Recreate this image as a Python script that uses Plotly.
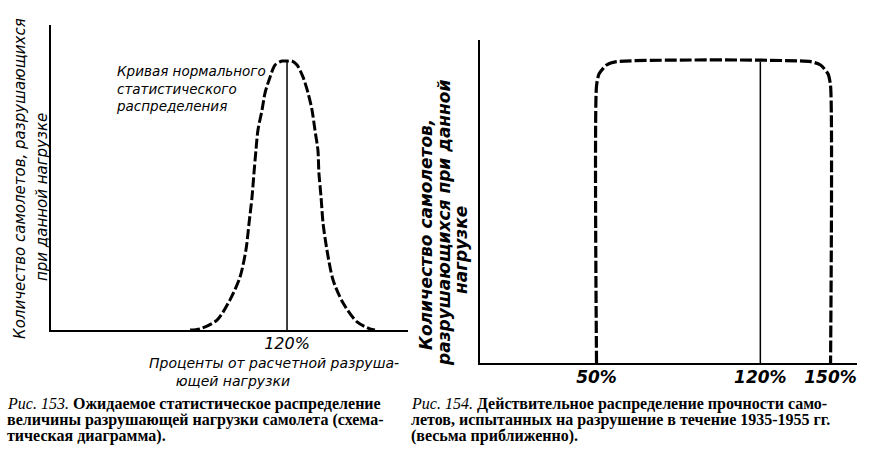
import plotly.graph_objects as go

W, H = 873, 458

# ---------------- data ----------------
# Fig. 153: expected (normal) distribution, x = % of design ultimate load, y = relative count
normal_x = [70.7, 75.7, 84.4, 91.0, 96.1, 99.1, 100.7, 102.2, 103.2, 104.2, 105.2, 107.3,
            108.8, 111.4, 113.9, 117.4, 120.0, 122.5, 125.1, 128.1, 130.7, 132.7, 134.2,
            135.7, 136.2, 137.3, 138.3, 140.3, 143.4, 148.5, 155.6, 162.2, 164.7]
normal_y = [0, 0.4, 3.7, 11.2, 19.7, 29.7, 39.8, 49.4, 58.4, 66.9, 74.3, 81.8,
            88.1, 94.1, 98.5, 100, 100, 100, 98.5, 94.1, 88.1, 81.8, 74.3,
            66.9, 58.4, 49.4, 39.8, 29.7, 18.6, 10.0, 3.0, 0.4, 0]
mean_x = [120, 120]
mean_y = [0, 100]

# Fig. 154: actual distribution (approximate rectangle with rounded corners)
rect_x = [50, 50, 51.1, 54.3, 58.5, 141.5, 145.7, 148.9, 150, 150]
rect_y = [0, 92, 96, 98.9, 100, 100, 98.9, 96, 92, 0]
ref_x = [120, 120]
ref_y = [0, 100]

left_ticks = [120]
left_ticktext = ["120%"]
right_ticks = [50, 120, 150]
right_ticktext = ["50%", "120%", "150%"]

# ---------------- helpers ----------------
def px(x):
    return x / W

def py(y):
    return 1 - y / H

HAND = "DejaVu Sans, sans-serif"
SERIF = "Liberation Serif, Times New Roman, serif"

fig = go.Figure()

fig.add_trace(go.Scatter(x=normal_x, y=normal_y, mode="lines",
                         line=dict(color="black", width=3, dash="10px,3px",
                                   shape="spline", smoothing=0.8),
                         xaxis="x", yaxis="y", showlegend=False, hoverinfo="skip"))
fig.add_trace(go.Scatter(x=mean_x, y=mean_y, mode="lines",
                         line=dict(color="black", width=1.5),
                         xaxis="x", yaxis="y", showlegend=False, hoverinfo="skip"))
fig.add_trace(go.Scatter(x=rect_x, y=rect_y, mode="lines",
                         line=dict(color="black", width=3.2, dash="12px,3px",
                                   shape="spline", smoothing=0.6),
                         xaxis="x2", yaxis="y2", showlegend=False, hoverinfo="skip"))
fig.add_trace(go.Scatter(x=ref_x, y=ref_y, mode="lines",
                         line=dict(color="black", width=1.5),
                         xaxis="x2", yaxis="y2", showlegend=False, hoverinfo="skip"))

axis_common = dict(showgrid=False, zeroline=False, showline=True, linecolor="black",
                   linewidth=2, ticks="", fixedrange=True)

fig.update_layout(
    width=W, height=H,
    margin=dict(l=0, r=0, t=0, b=0),
    paper_bgcolor="white", plot_bgcolor="white",
    xaxis=dict(domain=[px(51), px(408)], range=[0, 181.5], anchor="y",
               tickvals=left_ticks, ticktext=left_ticktext,
               tickfont=dict(family=HAND, size=16, color="black", style="italic"),
               ticklabelstandoff=-2,
               **axis_common),
    yaxis=dict(domain=[py(330), py(25)], range=[0, 113.4], anchor="x",
               showticklabels=False, **axis_common),
    xaxis2=dict(domain=[px(479.5), px(857)], range=[0, 161.3], anchor="y2",
                tickvals=right_ticks, ticktext=right_ticktext,
                tickfont=dict(family=HAND, size=17, color="black", style="italic",
                              weight="bold"),
                ticklabelstandoff=-2,
                **axis_common),
    yaxis2=dict(domain=[py(363), py(40)], range=[0, 107.2], anchor="x2",
                showticklabels=False, **axis_common),
)

def note(text, x, y, size, xanchor="left", angle=0, family=HAND, italic=True,
         bold=False, align="left"):
    if italic:
        text = "<i>" + text + "</i>"
    fig.add_annotation(text=text, x=px(x), y=py(y), xref="paper", yref="paper",
                       xanchor=xanchor, yanchor="middle", textangle=angle,
                       showarrow=False, align=align,
                       font=dict(family=family, size=size, color="black",
                                 style="italic" if italic else "normal",
                                 weight="bold" if bold else "normal"))

NB = "\u00a0"

# Fig. 153 texts
note("Кривая нормального<br>статистического<br>распределения", 114, 89, 13.5)
note("Количество самолетов, разрушающихся", 20, 179, 15, xanchor="center", angle=-90)
note("при данной нагрузке", 42, 197, 15, xanchor="center", angle=-90)
note("Проценты от расчетной разруша-<br>" + NB * 6 + "ющей нагрузки", 147, 372, 14)

# Fig. 154 texts
note("Количество самолетов,", 426, 235, 17, xanchor="center", angle=-90, bold=True)
note("разрушающихся при данной", 444, 223, 17, xanchor="center", angle=-90, bold=True)
note("нагрузке", 461, 250, 17, xanchor="center", angle=-90, bold=True)

# captions
cap_left = ["<i>Рис. 153.</i> <b>Ожидаемое статистическое распределение</b>",
            "<b>величины разрушающей нагрузки самолета (схема-</b>",
            "<b>тическая диаграмма).</b>"]
cap_right = ["<i>Рис. 154.</i> <b>Действительное распределение прочности само-</b>",
             "<b>летов, испытанных на разрушение в течение 1935-1955 гг.</b>",
             "<b>(весьма приближенно).</b>"]
for i, t in enumerate(cap_left):
    note(t, 5, 404 + 16 * i, 16, family=SERIF, italic=False)
for i, t in enumerate(cap_right):
    note(t, 409, 404 + 16 * i, 16, family=SERIF, italic=False)

fig.write_html("out.html")
